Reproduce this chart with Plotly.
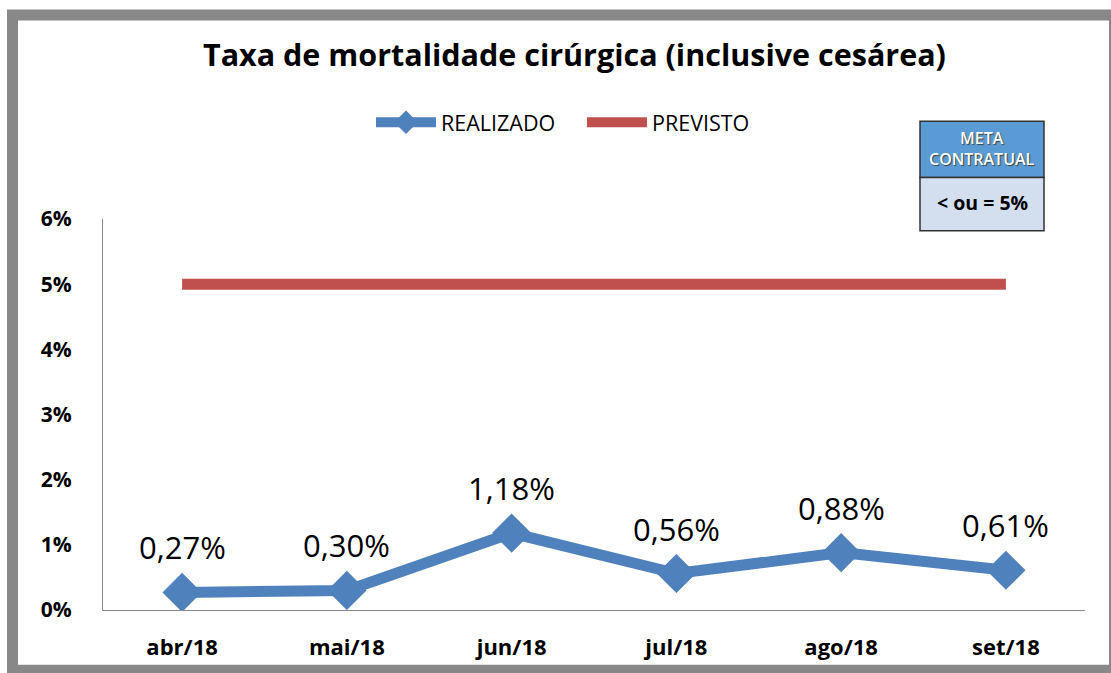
import plotly.graph_objects as go

categories = ["abr/18", "mai/18", "jun/18", "jul/18", "ago/18", "set/18"]
realizado = [0.27, 0.30, 1.18, 0.56, 0.88, 0.61]
previsto = [5, 5, 5, 5, 5, 5]
y_ticks = [0, 1, 2, 3, 4, 5, 6]
y_tick_labels = ["0%", "1%", "2%", "3%", "4%", "5%", "6%"]

FONT = "Open Sans"
W, H = 1111, 673
L, R, T, B = 103, 26, 219, 58
PW, PH = W - L - R, H - T - B


def px(x):
    return (x - L) / PW


def py(y):
    return (H - B - y) / PH


fig = go.Figure()
fig.add_trace(go.Scatter(
    x=categories, y=realizado, name="REALIZADO", mode="lines+markers",
    line=dict(color="#4F81BD", width=11),
    marker=dict(symbol="diamond", size=28, color="#4F81BD",
                line=dict(color="#4F81BD", width=2)),
))
fig.add_trace(go.Scatter(
    x=categories, y=previsto, name="PREVISTO", mode="lines",
    line=dict(color="#C0504D", width=11),
))

annotations = []
for c, v in zip(categories, realizado):
    annotations.append(dict(
        x=c, y=v, xref="x", yref="y", text=f"{v:.2f}%".replace(".", ","),
        showarrow=False, yshift=45,
        font=dict(family=FONT, size=31, color="#000000"),
    ))

annotations += [
    dict(x=px(574), y=py(52), xref="paper", yref="paper",
         text="<b>Taxa de mortalidade cirúrgica (inclusive cesárea)</b>",
         showarrow=False, xanchor="center", yanchor="middle",
         font=dict(family=FONT, size=30.5, color="#000000")),
    dict(x=px(982), y=py(148), xref="paper", yref="paper",
         text="META<br>CONTRATUAL", showarrow=False,
         xanchor="center", yanchor="middle",
         font=dict(family=FONT, size=16, weight=600, color="#FFFFFF",
                   shadow="1px 1px 1px #404040")),
    dict(x=px(982), y=py(202), xref="paper", yref="paper",
         text="<b>< ou = 5%</b>", showarrow=False,
         xanchor="center", yanchor="middle",
         font=dict(family=FONT, size=19.5, color="#000000")),
]

shapes = [
    dict(type="rect", xref="paper", yref="paper",
         x0=px(12.5), x1=px(1114.5), y0=py(12.5), y1=py(676),
         line=dict(color="#888888", width=11), fillcolor="rgba(0,0,0,0)",
         layer="below"),
    dict(type="rect", xref="paper", yref="paper",
         x0=px(920), x1=px(1044), y0=py(120), y1=py(177),
         line=dict(color="#333333", width=1.5), fillcolor="#5B9BD5"),
    dict(type="rect", xref="paper", yref="paper",
         x0=px(920), x1=px(1044), y0=py(177), y1=py(231),
         line=dict(color="#333333", width=1.5), fillcolor="#D3DFEE"),
]

fig.update_layout(
    width=W, height=H,
    margin=dict(l=L, r=R, t=T, b=B),
    paper_bgcolor="#FFFFFF", plot_bgcolor="#FFFFFF",
    font=dict(family=FONT, color="#000000"),
    showlegend=True,
    legend=dict(orientation="h", x=px(371), y=py(121), xanchor="left",
                yanchor="middle", font=dict(family=FONT, size=21.5),
                itemwidth=60, entrywidth=136, bgcolor="rgba(0,0,0,0)"),
    annotations=annotations,
    shapes=shapes,
    xaxis=dict(range=[-0.48, 5.48], showgrid=False, showline=True,
               linecolor="#888888", linewidth=1,
               ticks="", tickfont=dict(family=FONT, size=22, weight="bold"),
               ticklabelstandoff=18, zeroline=False, fixedrange=True),
    yaxis=dict(range=[0, 6], tickvals=y_ticks, ticktext=y_tick_labels,
               showgrid=False, showline=True, linecolor="#888888", linewidth=1,
               ticks="", tickfont=dict(family=FONT, size=21, weight="bold"),
               ticklabelstandoff=26, zeroline=False, fixedrange=True),
)

fig.write_html("out.html", config={"displayModeBar": False},
               post_script="document.body.style.margin='0';document.body.style.overflow='hidden';")
